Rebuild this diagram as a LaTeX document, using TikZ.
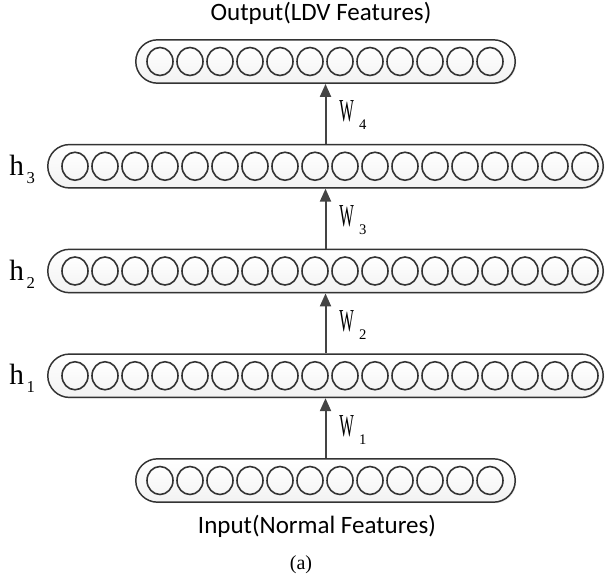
\documentclass[tikz,border=0pt]{standalone}
\usepackage{fontspec}
\usepackage{graphicx}
\usetikzlibrary{arrows.meta, shapes.geometric, shadows}
\setmainfont{Liberation Serif}
\newfontfamily\labelfont{Carlito}
\definecolor{edgegray}{HTML}{333333}
\definecolor{arrowgray}{HTML}{444444}

\tikzset{
  layer/.style={draw=edgegray, line width=1.1pt, rectangle, rounded corners=16.25pt,
    minimum height=32.5pt, inner sep=0pt, top color=white, bottom color=gray!10,
    drop shadow={opacity=0.2, shadow xshift=0.8pt, shadow yshift=-0.8pt}},
  unit/.style={draw=edgegray, line width=1.2pt, ellipse, minimum width=19.5pt,
    minimum height=21pt, inner sep=0pt, top color=white, bottom color=gray!8},
  weight/.style={-{Triangle[length=9.75pt,width=8.25pt]}, draw=arrowgray, line width=1.5pt},
  caption/.style={font=\labelfont\fontsize{18.75}{22}\selectfont, inner sep=0pt},
  wlab/.style={font=\fontsize{24}{26}\selectfont, inner sep=0pt, anchor=base west},
  hlab/.style={font=\fontsize{22}{24}\selectfont, inner sep=0pt, anchor=base west}
}
\newcommand{\wname}[1]{\scalebox{0.48}[1]{W}\hspace{4pt}\raisebox{-6pt}{\fontsize{11}{11}\selectfont #1}}
\newcommand{\hname}[1]{h\hspace{2pt}\raisebox{-6pt}{\fontsize{12.5}{13}\selectfont #1}}

\begin{document}
\begin{tikzpicture}[x=0.75pt, y=-0.75pt]

    \useasboundingbox (0,0) rectangle (605,577);

    % Draw the layers
    \node[layer, minimum width=284.6pt] (out) at (325.5, 61.5) {};
    \node[layer, minimum width=416.6pt] (h3) at (325.5, 166.25) {};
    \node[layer, minimum width=416.6pt] (h2) at (325.5, 271) {};
    \node[layer, minimum width=416.6pt] (h1) at (325.5, 375.75) {};
    \node[layer, minimum width=284.6pt] (inp) at (325.5, 480.5) {};

    % Draw the units inside each layer
    \foreach \i in {1,...,12} {
        \node[unit] (out-\i) at ({130+30*\i}, 61.5) {};
        \node[unit] (inp-\i) at ({130+30*\i}, 480.5) {};
    }
    \foreach \l/\y in {h3/166.25, h2/271, h1/375.75} {
        \foreach \i in {1,...,18}
            \node[unit] (\l-\i) at ({45+30*\i}, \y) {};
    }

    % Draw arrows between the layers
    \draw[weight] (inp.north) -- (h1.south);
    \draw[weight] (h1.north) -- (h2.south);
    \draw[weight] (h2.north) -- (h3.south);
    \draw[weight] (h3.north) -- (out.south);

    % Weight labels
    \node[wlab] (w1) at (339, 436.25) {\wname{1}};
    \node[wlab] (w2) at (339, 331.5) {\wname{2}};
    \node[wlab] (w3) at (339, 226.75) {\wname{3}};
    \node[wlab] (w4) at (339, 122) {\wname{4}};

    % Hidden layer labels
    \node[hlab] (lh3) at (9, 175.25) {\hname{3}};
    \node[hlab] (lh2) at (9, 280) {\hname{2}};
    \node[hlab] (lh1) at (9, 384.75) {\hname{1}};

    % Captions
    \node[caption, anchor=base] (title) at (321, 21) {Output(LDV Features)};
    \node[caption, anchor=base] (intitle) at (317, 533) {Input(Normal Features)};
    \node[anchor=base, inner sep=0pt, font=\fontsize{15}{17}\selectfont] (sub) at (301, 569) {(a)};

\end{tikzpicture}
\end{document}
